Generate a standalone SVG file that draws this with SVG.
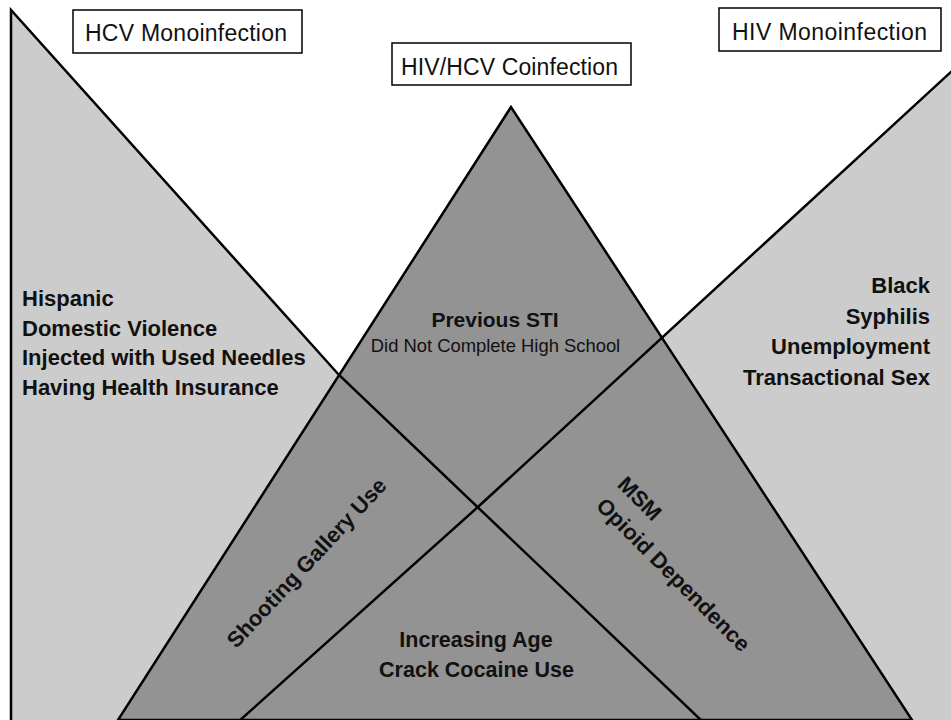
<svg xmlns="http://www.w3.org/2000/svg" width="951" height="720" viewBox="0 0 951 720">
  <style>
    .light { fill: #cccccc; }
    .dark { fill: #939393; }
    .edge { fill: none; stroke: #000; stroke-width: 2.5; stroke-linejoin: miter; }
    .box { fill: #fff; stroke: #000; stroke-width: 1.5; }
    .title { font-family: "Liberation Sans", Arial, sans-serif; font-size: 23px; fill: #111; }
    .b { font-family: "Liberation Sans", Arial, sans-serif; font-size: 22px; font-weight: bold; fill: #111; }
    .r { font-family: "Liberation Sans", Arial, sans-serif; font-size: 18.4px; fill: #111; }
  </style>
  <rect width="951" height="720" fill="#fff"/>

  <!-- HCV monoinfection region (left) -->
  <g id="hcv-region">
    <polygon class="light" points="11,10 339,375 118,720 11,720"/>
  </g>

  <!-- HIV monoinfection region (right) -->
  <g id="hiv-region">
    <polygon class="light" points="951,72 663,337 912,720 951,720"/>
  </g>

  <!-- Coinfection triangle (centre) -->
  <g id="coinfection-region">
    <polygon class="dark" points="511,107 118,720 912,720"/>
  </g>

  <!-- Triangle edges -->
  <g id="edges">
    <polygon class="edge" points="511,107 118,720 912,720"/>
    <path class="edge" d="M11,722 L11,10 L339,375 L703,722"/>
    <path class="edge" d="M953,70 L479,506 L238,722"/>
  </g>

  <!-- Group labels -->
  <g id="label-hcv">
    <rect class="box" x="73" y="10" width="229" height="43"/>
    <text class="title" x="186" y="41" text-anchor="middle" textLength="202">HCV Monoinfection</text>
  </g>
  <g id="label-hiv">
    <rect class="box" x="719" y="8" width="222" height="43"/>
    <text class="title" x="829.5" y="40" text-anchor="middle" textLength="195">HIV Monoinfection</text>
  </g>
  <g id="label-coinfection">
    <rect class="box" x="392" y="43" width="239" height="42"/>
    <text class="title" x="509.5" y="75" text-anchor="middle" textLength="217">HIV/HCV Coinfection</text>
  </g>

  <!-- Factors -->
  <g id="factors-hcv">
    <text class="b" x="22" y="306">Hispanic</text>
    <text class="b" x="22" y="336">Domestic Violence</text>
    <text class="b" x="22" y="365">Injected with Used Needles</text>
    <text class="b" x="22" y="395">Having Health Insurance</text>
  </g>
  <g id="factors-hiv">
    <text class="b" x="930" y="293" text-anchor="end">Black</text>
    <text class="b" x="930" y="323.5" text-anchor="end">Syphilis</text>
    <text class="b" x="930" y="354" text-anchor="end">Unemployment</text>
    <text class="b" x="930" y="385" text-anchor="end">Transactional Sex</text>
  </g>
  <g id="factors-coinfection">
    <text class="b" x="495" y="327" text-anchor="middle" style="font-size:21px">Previous STI</text>
    <text class="r" x="495.5" y="352" text-anchor="middle">Did Not Complete High School</text>
  </g>
  <g id="factors-hcv-coinfection">
    <text class="b" x="312" y="568" text-anchor="middle" transform="rotate(-47 312 568)">Shooting Gallery Use</text>
  </g>
  <g id="factors-hiv-coinfection" transform="translate(595 507) rotate(45)">
    <text class="b" x="0" y="-30">MSM</text>
    <text class="b" x="0" y="0">Opioid Dependence</text>
  </g>
  <g id="factors-all">
    <text class="b" x="476" y="647" text-anchor="middle" style="font-size:21.5px">Increasing Age</text>
    <text class="b" x="476.5" y="677" text-anchor="middle" style="font-size:21.5px">Crack Cocaine Use</text>
  </g>
</svg>
